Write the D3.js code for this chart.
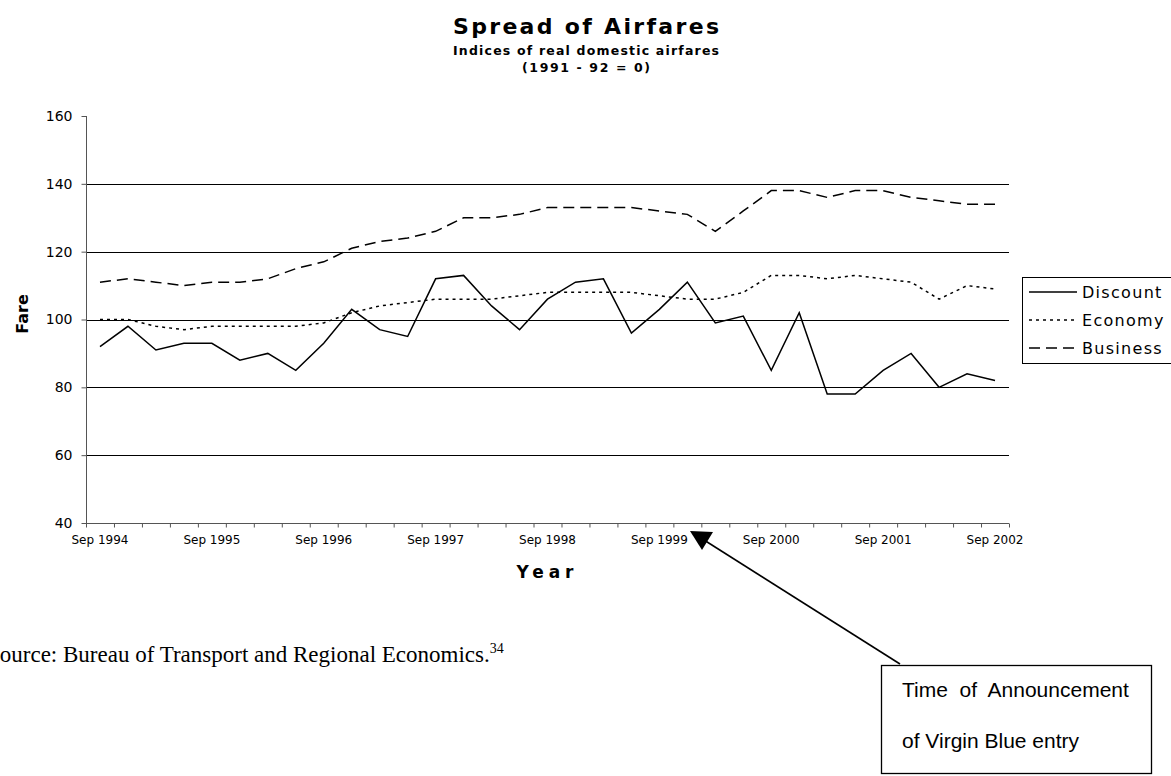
<!DOCTYPE html>
<html>
<head>
<meta charset="utf-8">
<script src="https://cdn.jsdelivr.net/npm/d3@7"></script>
<style>
  html, body { margin: 0; padding: 0; background: #fff; }
  svg { display: block; }
</style>
</head>
<body>
<svg id="chart" width="1171" height="776"></svg>
<script>
// ---------------- data ----------------
const categories = [
  "Sep 1994","Dec 1994","Mar 1995","Jun 1995",
  "Sep 1995","Dec 1995","Mar 1996","Jun 1996",
  "Sep 1996","Dec 1996","Mar 1997","Jun 1997",
  "Sep 1997","Dec 1997","Mar 1998","Jun 1998",
  "Sep 1998","Dec 1998","Mar 1999","Jun 1999",
  "Sep 1999","Dec 1999","Mar 2000","Jun 2000",
  "Sep 2000","Dec 2000","Mar 2001","Jun 2001",
  "Sep 2001","Dec 2001","Mar 2002","Jun 2002",
  "Sep 2002"
];
const xTickLabels = ["Sep 1994","Sep 1995","Sep 1996","Sep 1997","Sep 1998","Sep 1999","Sep 2000","Sep 2001","Sep 2002"];
const yTickValues = [40, 60, 80, 100, 120, 140, 160];

const discount = [92,98,91,93,93,88,90,85,93,103, 97,95,112,113,104,97,106,111,112,96, 103,111,99,101,85,102,78,78,85,90, 80,84,82];
const economy  = [100,100,98,97,98,98,98,98,99,102, 104,105,106,106,106,107,108,108,108,108, 107,106,106,108,113,113,112,113,112,111, 106,110,109];
const business = [111,112,111,110,111,111,112,115,117,121, 123,124,126,130,130,131,133,133,133,133, 132,131,126,132,138,138,136,138,138,136, 135,134,134];

const seriesNames = ["Discount", "Economy", "Business"];
const seriesValues = [discount, economy, business];
const seriesDash = [null, "3,4", "11,6"];

const titleText = "Spread of Airfares";
const subtitle1 = "Indices of real domestic airfares";
const subtitle2 = "(1991 - 92 = 0)";
const xTitle = "Year";
const yTitle = "Fare";
const annotationLines = ["Time  of  Announcement", "of Virgin Blue entry"];

(function () {
// ---------------- layout ----------------
const svg = d3.select("#chart");
const pL = 86, pR = 1009, pT = 116, pB = 523;

const x = d3.scaleBand().domain(categories).range([pL, pR]).paddingInner(0).paddingOuter(0);
const xc = d => x(d) + x.bandwidth() / 2;
const xIdx = d3.scaleLinear().domain([0, categories.length]).range([pL, pR]);
const y = d3.scaleLinear().domain([40, 160]).range([pB, pT]);

const sans = "'DejaVu Sans', Verdana, sans-serif";

// gridlines
svg.append("g")
  .selectAll("line")
  .data(yTickValues.filter(v => v > 40 && v < 160))
  .join("line")
  .attr("x1", pL).attr("x2", pR)
  .attr("y1", d => Math.round(y(d)) + 0.5).attr("y2", d => Math.round(y(d)) + 0.5)
  .attr("stroke", "#000").attr("stroke-width", 1);

// y axis
const yAxis = svg.append("g")
  .attr("transform", `translate(${pL + 0.5},0)`)
  .call(d3.axisLeft(y).tickValues(yTickValues).tickSize(5).tickPadding(9).tickFormat(d3.format("d")));
yAxis.select(".domain").attr("stroke", "#555").attr("d", `M0,${y(160)}V${y(40)}`);
yAxis.selectAll(".tick line").attr("stroke", "#555");
yAxis.selectAll("text").attr("font-family", sans).attr("font-size", 14).attr("fill", "#000");

// x axis ticks (category boundaries)
const xTicks = svg.append("g")
  .attr("transform", `translate(0,${Math.round(pB) + 0.5})`)
  .call(d3.axisBottom(xIdx).tickValues(d3.range(categories.length + 1)).tickSize(4).tickFormat(""));
xTicks.select(".domain").attr("stroke", "#555").attr("d", `M${pL},0H${pR}`);
xTicks.selectAll(".tick line").attr("stroke", "#555");

// x axis labels
const xLab = svg.append("g")
  .attr("transform", `translate(0,${pB})`)
  .call(d3.axisBottom(x).tickValues(xTickLabels).tickSize(0).tickPadding(12.5));
xLab.select(".domain").remove();
xLab.selectAll("text").attr("font-family", sans).attr("font-size", 12).attr("fill", "#000");

// lines
const line = d3.line().x((d, i) => xc(categories[i])).y(d => y(d));
seriesValues.forEach((vals, k) => {
  svg.append("path")
    .datum(vals)
    .attr("d", line)
    .attr("fill", "none")
    .attr("stroke", "#000")
    .attr("stroke-width", 1.5)
    .attr("stroke-dasharray", seriesDash[k]);
});

// titles
svg.append("text").attr("x", 586).attr("y", 34).attr("text-anchor", "middle")
  .attr("font-family", sans).attr("font-weight", "bold").attr("font-size", 22)
  .attr("textLength", 266).attr("lengthAdjust", "spacing").text(titleText);
svg.append("text").attr("x", 586).attr("y", 55).attr("text-anchor", "middle")
  .attr("font-family", sans).attr("font-weight", "bold").attr("font-size", 12.5)
  .attr("textLength", 266).attr("lengthAdjust", "spacing").text(subtitle1);
svg.append("text").attr("x", 586).attr("y", 72).attr("text-anchor", "middle")
  .attr("font-family", sans).attr("font-weight", "bold").attr("font-size", 12.5)
  .attr("textLength", 128).attr("lengthAdjust", "spacing").text(subtitle2);

svg.append("text").attr("x", 545).attr("y", 578).attr("text-anchor", "middle")
  .attr("font-family", sans).attr("font-weight", "bold").attr("font-size", 17)
  .attr("textLength", 57).attr("lengthAdjust", "spacing").text(xTitle);

svg.append("text").attr("transform", "translate(27.5,314) rotate(-90)").attr("text-anchor", "middle")
  .attr("font-family", sans).attr("font-weight", "bold").attr("font-size", 16).text(yTitle);

// legend
const lg = svg.append("g").attr("transform", "translate(1022,277)");
lg.append("rect").attr("x", 0.5).attr("y", 0.5).attr("width", 170).attr("height", 86)
  .attr("fill", "#fff").attr("stroke", "#000").attr("stroke-width", 1);
seriesNames.forEach((name, k) => {
  const yy = 15 + k * 28;
  lg.append("line").attr("x1", 7).attr("x2", 55).attr("y1", yy).attr("y2", yy)
    .attr("stroke", "#000").attr("stroke-width", 1.5).attr("stroke-dasharray", seriesDash[k]);
  lg.append("text").attr("x", 60).attr("y", yy).attr("dy", "0.36em")
    .attr("font-family", sans).attr("font-size", 16).attr("letter-spacing", 1.3).text(name);
});

// source note (left edge is cropped in the reference, as here)
const src = svg.append("text").attr("x", -13).attr("y", 662)
  .attr("font-family", "'Liberation Serif', 'Times New Roman', serif").attr("font-size", 23);
src.append("tspan").text("Source: Bureau of Transport and Regional Economics.");
src.append("tspan").attr("dy", -9).attr("font-size", 14).text("34");

// annotation box + arrow
svg.append("rect").attr("x", 881.5).attr("y", 665.5).attr("width", 270).attr("height", 108)
  .attr("fill", "#fff").attr("stroke", "#000").attr("stroke-width", 1.3);
const ann = svg.append("text").attr("font-family", "'Liberation Sans', Arial, sans-serif")
  .attr("font-size", 21).attr("fill", "#000").style("white-space", "pre");
annotationLines.forEach((t, i) => {
  ann.append("tspan").attr("x", 902).attr("y", 697 + i * 51).text(t);
});

svg.append("line").attr("x1", 900).attr("y1", 664).attr("x2", 704).attr("y2", 540)
  .attr("stroke", "#000").attr("stroke-width", 1.6);
svg.append("path").attr("d", "M690,531 L713,532 L702,550 Z").attr("fill", "#000");
})();
</script>
</body>
</html>
